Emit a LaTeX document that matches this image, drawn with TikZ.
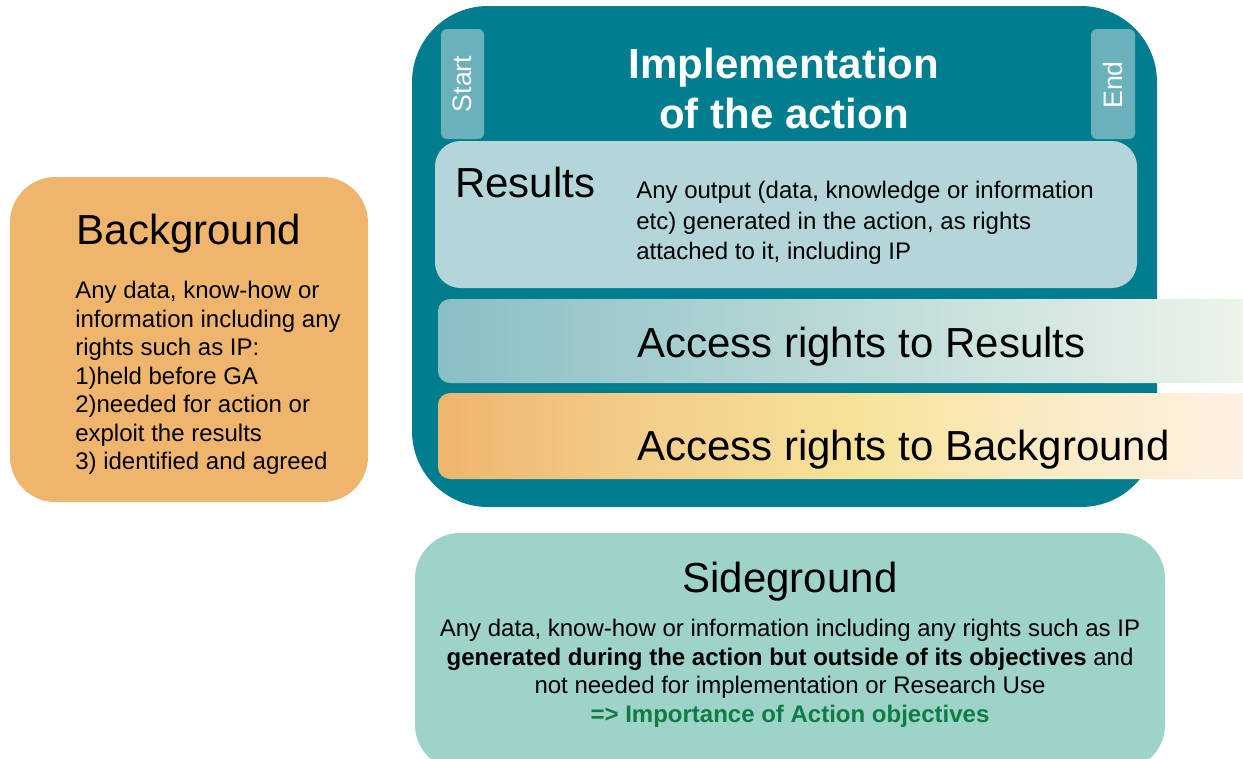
\documentclass[tikz,border=0pt]{standalone}
\usepackage{fontspec}
\setmainfont{Liberation Sans}
\usepackage{tikz}
\usetikzlibrary{scopes, calc, positioning}
\definecolor{ACTteal}{RGB}{0, 125, 143}
\definecolor{ACTtab}{RGB}{106, 177, 188}
\definecolor{RESbox}{RGB}{180, 214, 218}
\definecolor{BGorange}{RGB}{239, 181, 109}
\definecolor{SGmint}{RGB}{157, 211, 201}
\definecolor{SGgreen}{RGB}{16, 124, 68}
\definecolor{ARresA}{RGB}{137, 191, 197}
\definecolor{ARresB}{RGB}{208, 228, 231}
\definecolor{ARresC}{RGB}{238, 244, 234}
\definecolor{ARbgA}{RGB}{237, 181, 110}
\definecolor{ARbgB}{RGB}{243, 206, 138}
\definecolor{ARbgC}{RGB}{247, 227, 154}
\definecolor{ARbgD}{RGB}{250, 234, 192}
\definecolor{ARbgE}{RGB}{253, 241, 229}
% orange -> yellow -> cream, stops inside 25bp..75bp
\pgfdeclarehorizontalshading{ARbgshade}{100bp}{color(0bp)=(ARbgA); color(25bp)=(ARbgA); color(38bp)=(ARbgB); color(51bp)=(ARbgC); color(61bp)=(ARbgD); color(75bp)=(ARbgE); color(100bp)=(ARbgE)}
\tikzset{
  bigtext/.style={font=\fontsize{31.5}{37}\selectfont, inner sep=0pt},
  smalltext/.style={font=\fontsize{18}{21.4}\selectfont, inner sep=0pt},
  tabtext/.style={font=\fontsize{20}{24}\selectfont, text=white, inner sep=0pt, rotate=90}
}
\begin{document}
\begin{tikzpicture}[x=0.75pt, y=-0.75pt]
	\useasboundingbox (0,0) rectangle (1243,758);
	\clip (0,0) rectangle (1243,758);

	% implementation of the action
	\fill[ACTteal, rounded corners=57pt] (412,6) rectangle (1157,507);
	\fill[ACTtab, rounded corners=4.5pt] (441,29) rectangle (484,139);
	\fill[ACTtab, rounded corners=4.5pt] (1091,29) rectangle (1135,139);
	\fill[RESbox, rounded corners=19pt] (435,141) rectangle (1137,288);

	% access rights bars
	\shade[left color=ARresA, middle color=ARresB, right color=ARresC, rounded corners=9pt] (438,299) rectangle (1255,383);
	\shade[shading=ARbgshade, rounded corners=9pt] (438,393) rectangle (1255,479);

	% background and sideground
	\fill[BGorange, rounded corners=34pt] (10,177) rectangle (368,502);
	\fill[SGmint, rounded corners=34pt] (415,533) rectangle (1165,770);

	% texts
	\node[tabtext] (start) at (462,84) {Start};
	\node[tabtext] (end) at (1113,85) {End};
	\node[bigtext, font=\fontsize{31.5}{37}\selectfont\bfseries, text=white, align=center, anchor=north] (impl) at (784,48) {Implementation\\of the action};

	\node[bigtext, anchor=base west] (res) at (455,197) {Results};
	\node[smalltext, font=\fontsize{18}{22.9}\selectfont, align=left, anchor=north west] (resdesc) at (636,181) {Any output (data, knowledge or information\\etc) generated in the action, as rights\\attached to it, including IP};

	\node[bigtext, anchor=base west] (arres) at (637,357) {Access rights to Results};
	\node[bigtext, anchor=base west] (arbg) at (637,460) {Access rights to Background};

	\node[bigtext, anchor=base] (bg) at (189,244) {Background};
	\node[smalltext, align=left, anchor=north west] (bgdesc) at (75,281) {Any data, know-how or\\information including any\\rights such as IP:\\1)held before GA\\2)needed for action or\\exploit the results\\3) identified and agreed};

	\node[bigtext, anchor=base] (sg) at (790,592) {Sideground};
	\node[smalltext, align=center, anchor=north] (sgdesc) at (790,619) {Any data, know-how or information including any rights such as IP\\\textbf{generated during the action but outside of its objectives} and\\not needed for implementation or Research Use\\\textcolor{SGgreen}{\textbf{=> Importance of Action objectives}}};
\end{tikzpicture}
\end{document}
